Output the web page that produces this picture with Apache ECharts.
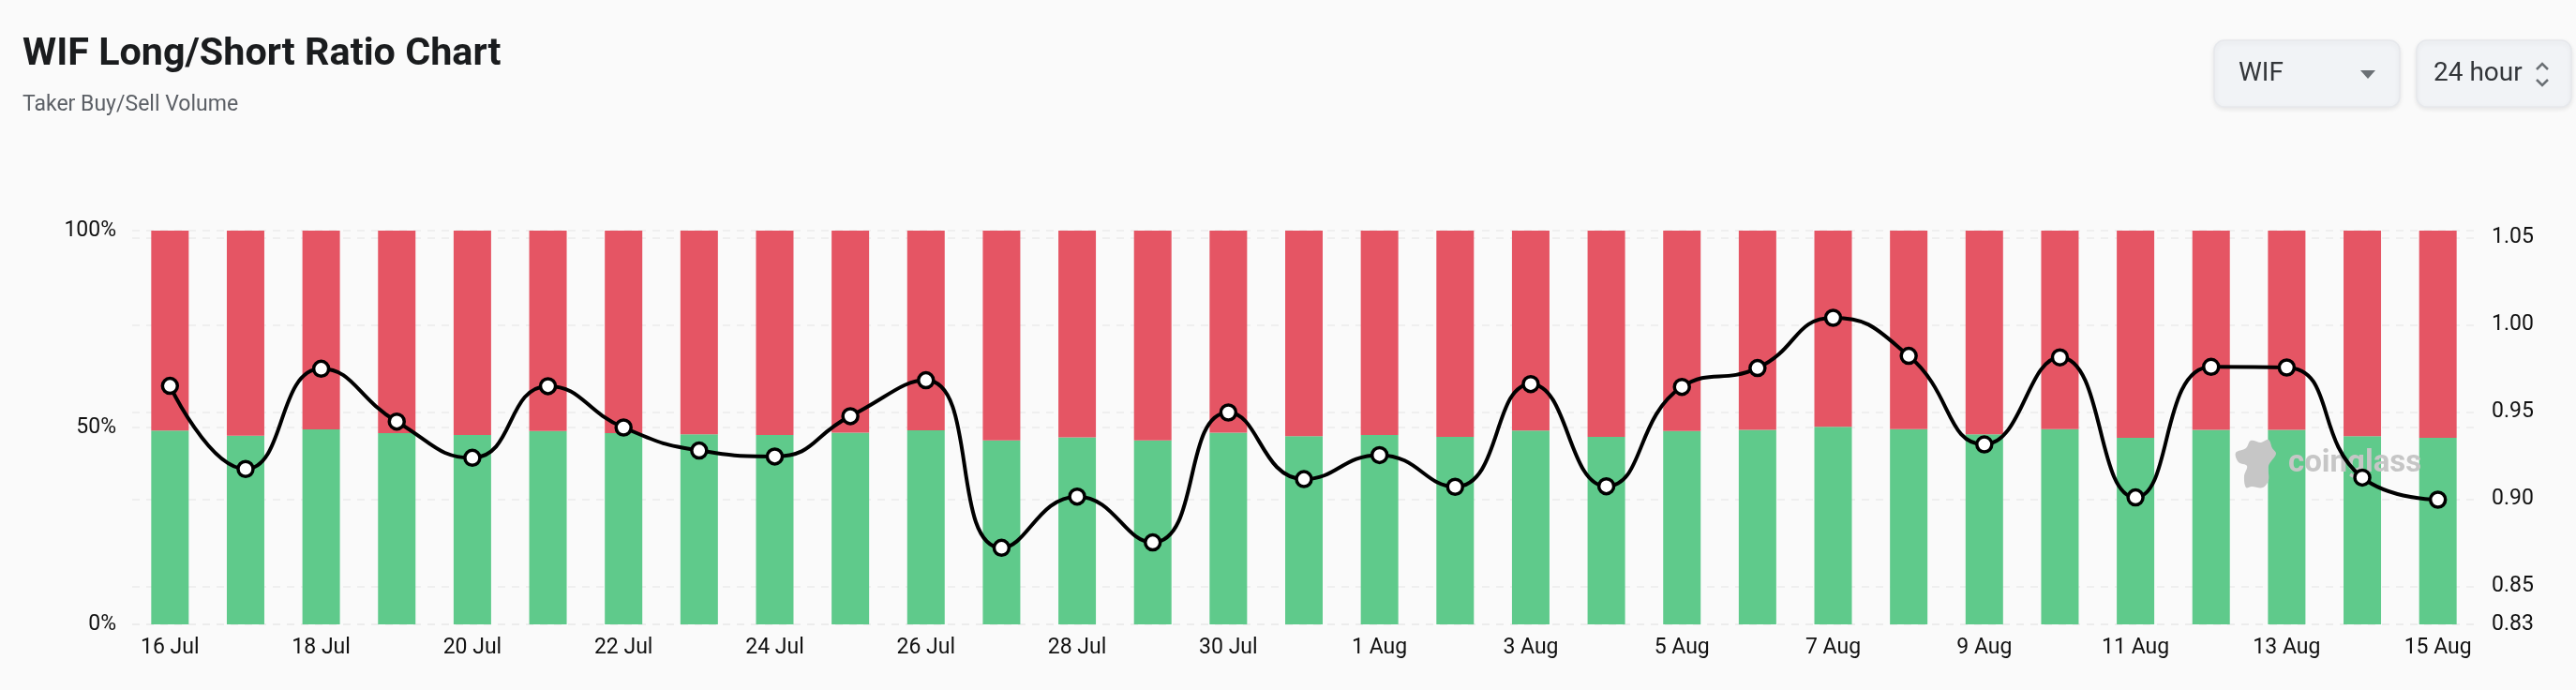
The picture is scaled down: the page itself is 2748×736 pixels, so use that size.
<!DOCTYPE html>
<html>
<head>
<meta charset="utf-8">
<title>WIF Long/Short Ratio Chart</title>
<script src="https://cdn.jsdelivr.net/npm/echarts@6/dist/echarts.min.js"></script>
<style>
  html, body { margin: 0; padding: 0; background: #fafafa; }
  #chart { width: 2748px; height: 736px; }
</style>
</head>
<body>
<div id="chart"></div>
<script>
const dates = ["16 Jul","17 Jul","18 Jul","19 Jul","20 Jul","21 Jul","22 Jul","23 Jul","24 Jul","25 Jul","26 Jul","27 Jul","28 Jul","29 Jul","30 Jul","31 Jul",
  "1 Aug","2 Aug","3 Aug","4 Aug","5 Aug","6 Aug","7 Aug","8 Aug","9 Aug","10 Aug","11 Aug","12 Aug","13 Aug","14 Aug","15 Aug"];

// long share in %, short is the rest
const longPct = [49.2,47.9,49.5,48.6,48.1,49.1,48.6,48.3,48.1,48.7,49.3,46.7,47.5,46.7,48.7,47.8,
  48.1,47.6,49.2,47.6,49.1,49.4,50.2,49.6,48.3,49.6,47.4,49.4,49.4,47.8,47.4];

const ratio = [0.9651,0.9174,0.9749,0.9446,0.9238,0.9649,0.9412,0.9280,0.9246,0.9477,0.9683,0.8722,0.9016,0.8753,0.9498,0.9116,
  0.9254,0.9072,0.9661,0.9075,0.9645,0.9753,1.0041,0.9823,0.9315,0.9814,0.9011,0.9760,0.9756,0.9125,0.8998];

const shortPct = longPct.map(v => +(100 - v).toFixed(1));

const gridLine = { show: true, lineStyle: { color: "#ececec", width: 1.5, type: [8, 7] } };
const axisFont = { color: "#111", fontFamily: "Roboto", fontSize: 23, margin: 17 };

const chart = echarts.init(document.getElementById("chart"));

chart.setOption({
  backgroundColor: "#fafafa",
  animation: false,
  title: [
    { text: "WIF Long/Short Ratio Chart", left: 19, top: 33,
      textStyle: { color: "#1a1c1e", fontFamily: "Roboto", fontWeight: 700, fontSize: 41.3 } },
    { text: "Taker Buy/Sell Volume", left: 19, top: 96,
      textStyle: { color: "#5c6066", fontFamily: "Roboto", fontWeight: 400, fontSize: 23 } }
  ],
  grid: { left: 141, right: 107, top: 246, bottom: 70 },
  xAxis: {
    type: "category",
    data: dates,
    axisLine: { show: false },
    axisTick: { show: false },
    axisLabel: { ...axisFont, interval: 1, margin: 14 }
  },
  yAxis: [
    {
      type: "value", min: 0, max: 100, interval: 50,
      axisLine: { show: false }, axisTick: { show: false },
      axisLabel: { ...axisFont, formatter: "{value}%" },
      splitLine: gridLine
    },
    {
      type: "value", min: 0.8283, max: 1.0541, position: "right",
      axisLine: { show: false },
      axisTick: { show: false, customValues: [0.8283, 0.85, 0.9, 0.95, 1, 1.05] },
      axisLabel: { ...axisFont, customValues: [0.8283, 0.85, 0.9, 0.95, 1, 1.05], formatter: v => v.toFixed(2) },
      splitLine: gridLine
    }
  ],
  series: [
    { name: "Long", type: "bar", stack: "ratio", barWidth: 40, z: 1, data: longPct, itemStyle: { color: "#5fca8b" } },
    { name: "Short", type: "bar", stack: "ratio", barWidth: 40, z: 1, data: shortPct, itemStyle: { color: "#e55564" } },
    {
      name: "Long/Short Ratio", type: "line", yAxisIndex: 1, smooth: true, z: 3,
      data: ratio,
      symbol: "circle", symbolSize: 16, showAllSymbol: true,
      lineStyle: { color: "#000", width: 4 },
      itemStyle: { color: "#fff", borderColor: "#000", borderWidth: 3.5 }
    }
  ],
  graphic: [
    // select boxes
    { type: "rect", z: 5, shape: { x: 2362, y: 43, width: 198, height: 71, r: 11 },
      style: { fill: "#f1f3f6", stroke: "#e6e8ec", lineWidth: 1.5, shadowBlur: 5, shadowColor: "rgba(0,0,0,0.08)", shadowOffsetY: 2 } },
    { type: "rect", z: 5, shape: { x: 2578, y: 43, width: 165, height: 71, r: 11 },
      style: { fill: "#f1f3f6", stroke: "#e6e8ec", lineWidth: 1.5, shadowBlur: 5, shadowColor: "rgba(0,0,0,0.08)", shadowOffsetY: 2 } },
    { type: "text", z: 6, x: 2388, y: 79, style: { text: "WIF", fill: "#33363a", font: "400 28px Roboto", textVerticalAlign: "middle" } },
    { type: "text", z: 6, x: 2596, y: 79, style: { text: "24 hour", fill: "#33363a", font: "400 28px Roboto", textVerticalAlign: "middle" } },
    { type: "polygon", z: 6, shape: { points: [[2518, 75], [2534, 75], [2526, 84]] }, style: { fill: "#6b7075" } },
    { type: "polyline", z: 6, shape: { points: [[2706, 74], [2712, 68], [2718, 74]] }, style: { stroke: "#6b7075", lineWidth: 2.5, fill: null } },
    { type: "polyline", z: 6, shape: { points: [[2706, 85], [2712, 91], [2718, 85]] }, style: { stroke: "#6b7075", lineWidth: 2.5, fill: null } },
    // watermark
    { type: "polygon", z: 2, shape: { smooth: 0.35, points: [[2385, 483], [2396, 478], [2401, 470], [2412, 472], [2420, 469], [2424, 478], [2428, 484], [2420, 497], [2420, 512], [2414, 520], [2402, 519], [2396, 520], [2394, 508], [2397, 497], [2388, 493]] },
      style: { fill: "#c6c6c6" } },
    { type: "text", z: 2, x: 2441, y: 495, style: { text: "coinglass", fill: "#c6c6c6", font: "700 33px Roboto", textVerticalAlign: "middle" } }
  ]
});
</script>
</body>
</html>
